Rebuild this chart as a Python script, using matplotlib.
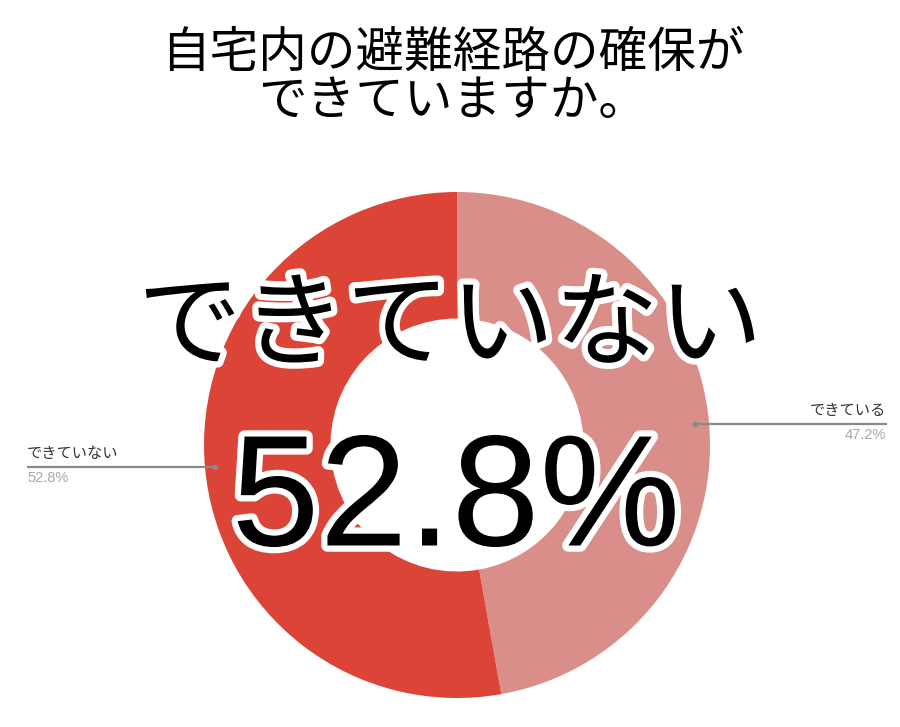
import matplotlib
matplotlib.use("Agg")
import matplotlib.pyplot as plt
import matplotlib.patheffects as pe

plt.rcParams['font.family'] = ['Noto Sans CJK JP', 'DejaVu Sans']

title = "自宅内の避難経路の確保が\nできていますか。"
labels = ["できている", "できていない"]
values = [47.2, 52.8]
colors = ["#DA8E89", "#DB4437"]
highlight_label = "できていない"
highlight_value = "52.8%"

W, H = 900, 727
fig = plt.figure(figsize=(W / 100, H / 100), dpi=100)
ax = fig.add_axes([0, 0, 1, 1])

cx, cy, R = 457, H - 445, 253
ax.pie(values, colors=colors, startangle=90, counterclock=False,
       center=(cx, cy), radius=R,
       wedgeprops=dict(width=R * 0.5, linewidth=0))
ax.set_xlim(0, W)
ax.set_ylim(0, H)
ax.set_aspect('equal')
ax.axis('off')

# leader lines + labels
lc = "#8a8a8a"
# left (できていない)
ax.plot([27, 215], [H - 467, H - 467], color=lc, lw=1.6, solid_capstyle='butt')
ax.plot([215], [H - 467], 'o', color=lc, ms=3)
ax.text(27, H - 462, f"{labels[1]}", ha='left', va='bottom', fontsize=11, color="#333333")
ax.text(27, H - 471, f"{values[1]}%", ha='left', va='top', fontsize=10.5,
        color="#a8a8a8", family=['Liberation Sans', 'DejaVu Sans'])
# right (できている)
ax.plot([695, 887], [H - 424, H - 424], color=lc, lw=1.6, solid_capstyle='butt')
ax.plot([695], [H - 424], 'o', color=lc, ms=3)
ax.text(886, H - 419, f"{labels[0]}", ha='right', va='bottom', fontsize=11, color="#333333")
ax.text(886, H - 428, f"{values[0]}%", ha='right', va='top', fontsize=10.5,
        color="#a8a8a8", family=['Liberation Sans', 'DejaVu Sans'])

# title
fig.text(0.503, 1 - 77 / H, title, ha='center', va='center', fontsize=35,
         linespacing=0.95, color='black')

stroke = [pe.withStroke(linewidth=9, foreground='white')]
ax.text(450, H - 328, highlight_label, ha='center', va='center', fontsize=75,
        color='black', path_effects=stroke)
ax.text(456, H - 505, highlight_value, ha='center', va='center', fontsize=114,
        color='black', family=['Liberation Sans', 'DejaVu Sans'], path_effects=stroke)

fig.savefig("out.png", dpi=100)
